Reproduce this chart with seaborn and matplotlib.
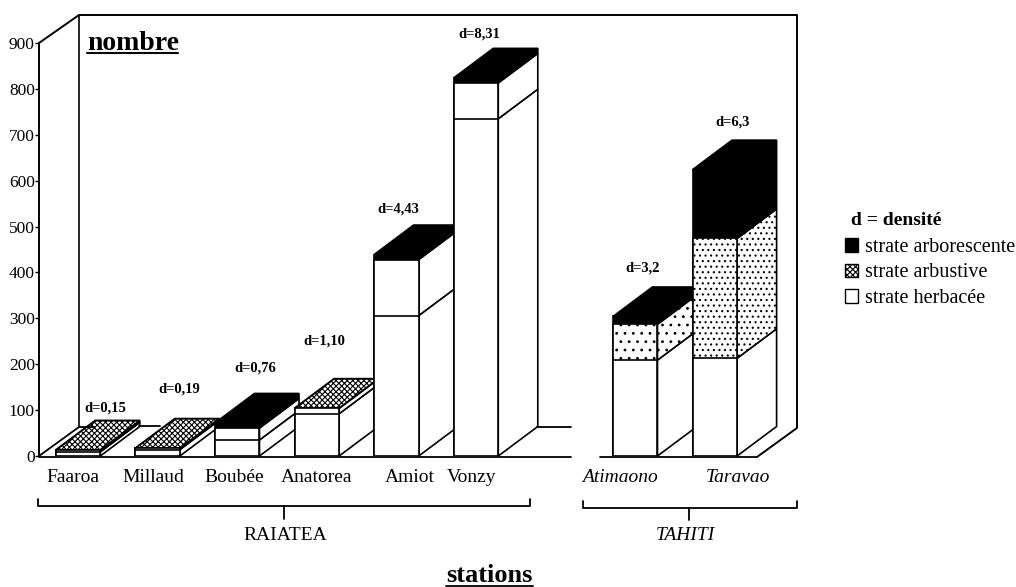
import matplotlib
matplotlib.use("Agg")
import matplotlib.pyplot as plt
from matplotlib.lines import Line2D
from matplotlib.patches import Patch, Polygon
import numpy as np
import pandas as pd
import seaborn as sns

# values
stations = ["Faaroa", "Millaud", "Boubée", "Anatorea", "Amiot", "Vonzy", "Atimaono", "Taravao"]
herbacee = [9, 14, 35, 92, 306, 735, 209, 213]
arbustive = [4, 3, 26, 12, 122, 78, 78, 261]
arborescente = [0, 0, 11, 0, 11, 11, 17, 150]
densite = ["d=0,15", "d=0,19", "d=0,76", "d=1,10", "d=4,43", "d=8,31", "d=3,2", "d=6,3"]
y_ticks = [0, 100, 200, 300, 400, 500, 600, 700, 800, 900]

# one empty slot between the two islands
slots = stations[:6] + [" "] + stations[6:]

W, H = 1016, 587
FONT = "Liberation Serif"

sns.set_theme(style="white")
plt.rcParams["font.family"] = [FONT, "DejaVu Serif"]
plt.rcParams["hatch.linewidth"] = 0.8

df = pd.DataFrame({"station": stations, "herb": herbacee, "arbu": arbustive, "arbo": arborescente})
df["mid"] = df["herb"] + df["arbu"]
df["total"] = df["mid"] + df["arbo"]

fig = plt.figure(figsize=(W / 100, H / 100), dpi=100)
# axes box: y axis at x=39, 0 at y=456, 900 at y=43, floor ends at x=757
ax = fig.add_axes([39 / W, 1 - 456 / H, (757 - 39) / W, (456 - 43) / H])

BAR_W = 0.56
for col in ["total", "mid", "herb"]:
    sns.barplot(data=df, x="station", y=col, order=slots, color="white", saturation=1,
                width=BAR_W, edgecolor="black", linewidth=1.2, ax=ax)

# px per unit, then the oblique depth of the fake 3D
UX = (757 - 39) / (8.53 + 0.49)
UY = (456 - 43) / 900
DX = 39.5 / UX
DY = 29.5 / UY

PATTERN = "xxxxxx"
arb_stipple = {"Atimaono": "..", "Taravao": "..."}


def slot_of(name):
    return slots.index(name)


# restyle fronts: black top stratum, painter order left to right
for cont, col in zip(ax.containers, ["total", "mid", "herb"]):
    for p in cont.patches:
        s = int(round(p.get_x() + p.get_width() / 2))
        p.set_zorder(20 + 2 * s + 1)
        if col == "total":
            p.set_facecolor("black")
        if col == "mid":
            p.set_hatch(arb_stipple.get(slots[s], ""))

for _, r in df.iterrows():
    s = slot_of(r["station"])
    x1 = s + BAR_W / 2
    x0 = s - BAR_W / 2
    z = 20 + 2 * s
    levels = [0, r["herb"], r["mid"], r["total"]]
    for k in range(3):
        lo, hi = levels[k], levels[k + 1]
        if hi <= lo:
            continue
        pts = [(x1, lo), (x1 + DX, lo + DY), (x1 + DX, hi + DY), (x1, hi)]
        hatch = arb_stipple.get(r["station"], "") if k == 1 else ""
        ax.add_patch(Polygon(pts, closed=True, fc="black" if k == 2 else "white",
                             ec="black", lw=1.2, hatch=hatch, zorder=z, clip_on=False))
    top = [(x0, r["total"]), (x1, r["total"]), (x1 + DX, r["total"] + DY), (x0 + DX, r["total"] + DY)]
    if r["arbo"] > 0:
        ax.add_patch(Polygon(top, closed=True, fc="black", ec="black", lw=1.2, zorder=z, clip_on=False))
    else:
        ax.add_patch(Polygon(top, closed=True, fc="white", ec="black", lw=1.4, hatch=PATTERN, zorder=z, clip_on=False))

ax.set_xlim(-0.49, 8.53)
ax.set_ylim(0, 900)
ax.set_xlabel("")
ax.set_ylabel("")
for side in ["top", "right", "bottom"]:
    ax.spines[side].set_visible(False)
ax.spines["left"].set_color("black")
ax.spines["left"].set_linewidth(1.4)
ax.spines["left"].set_zorder(5)

ax.set_yticks(y_ticks)
ax.tick_params(axis="y", left=True, length=3, width=1.0, color="black", pad=0, labelsize=12.5, labelcolor="black")

# station names sit a bit off the bars in the original
name_shift = [-5, -4, -3, 0, 13, -4, -15, 23]
name_pos = [slot_of(n) + d / UX for n, d in zip(stations, name_shift)]
ax.set_xticks(name_pos, stations)
ax.tick_params(axis="x", bottom=False, pad=3, labelsize=14, labelcolor="black")
for lab, n in zip(ax.get_xticklabels(), stations):
    if n in ("Atimaono", "Taravao"):
        lab.set_style("italic")

# density labels above each block
d_dx = [27, 22, 18, 8, 2, 3, 7, 18]
d_dy = [42, 59, 55, 67, 46, 44, 48, 48]
for n, t, lab, a, b in zip(stations, df["total"], densite, d_dx, d_dy):
    ax.annotate(lab, xy=(slot_of(n), t), xytext=(a, b), textcoords="offset pixels", ha="center", va="center",
                fontsize=10.5, fontweight="bold", color="black", annotation_clip=False, zorder=60)


def px_line(xs, ys, lw=1.3):
    fig.add_artist(Line2D([x / W for x in xs], [1 - y / H for y in ys], color="black", lw=lw, zorder=1))


def px_text(x, y, s, **kw):
    fig.text(x / W, 1 - y / H, s, ha="center", va="center", color="black", **kw)


# walls and floor of the box, broken like the scan
px_line([39, 79, 797, 797, 757], [43, 15, 15, 428, 457], lw=1.4)
px_line([79, 79], [15, 427], lw=1.2)
px_line([39, 79], [456, 427])
px_line([79, 95], [427, 427])
px_line([139, 160], [426, 426])
px_line([537, 571], [427, 427])
px_line([39, 571], [456.5, 456.5])
px_line([600, 757], [457, 457])

# island brackets
px_line([38, 38, 530, 530], [499, 506, 506, 499])
px_line([284, 284], [506, 519])
px_text(285, 536, "RAIATEA", fontsize=14)
px_line([583, 583, 797, 797], [501, 508, 508, 501])
px_line([689, 689], [508, 520])
px_text(685, 536, "TAHITI", fontsize=14, style="italic")

# underlined titles
px_text(133, 44, "nombre", fontsize=20, fontweight="bold")
px_line([87, 178], [53, 53], lw=1.5)
px_text(489, 575, "stations", fontsize=19, fontweight="bold")
px_line([446, 533], [585.5, 585.5], lw=1.3)

# legend
handles = [
    Patch(fc="black", ec="black"),
    Patch(fc="white", ec="black", hatch=PATTERN),
    Patch(fc="white", ec="black"),
]
leg = fig.legend(handles, ["strate arborescente", "strate arbustive", "strate herbacée"],
                 loc="upper left", bbox_to_anchor=(845 / W, 1 - 238 / H), frameon=False,
                 fontsize=14.5, handlelength=0.65, handleheight=0.65, handletextpad=0.35,
                 labelspacing=0.32, borderpad=0, borderaxespad=0, labelcolor="black")
px_text(896, 220, "d = densité", fontsize=14, fontweight="bold")

fig.savefig("out.png", dpi=100)
